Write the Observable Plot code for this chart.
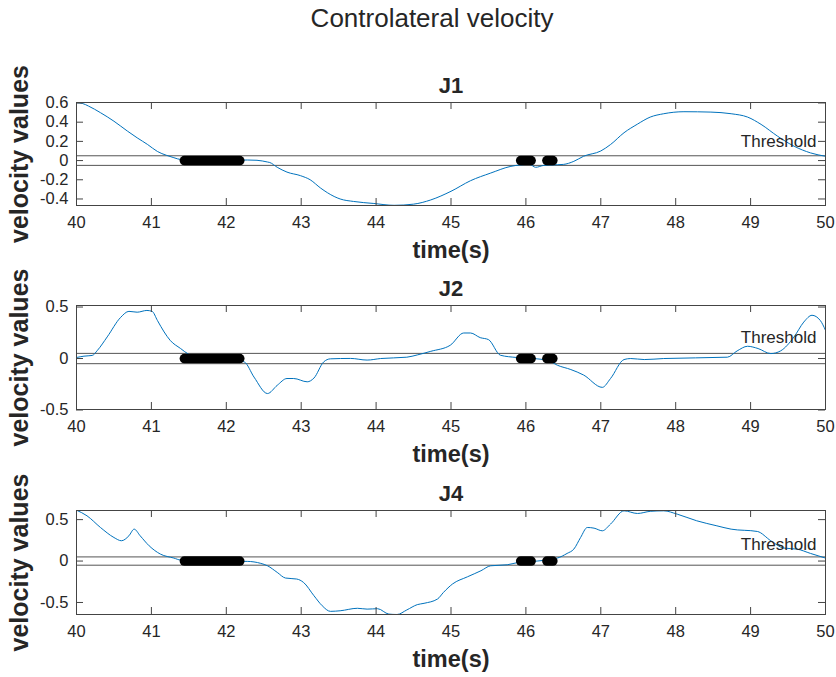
<!DOCTYPE html>
<html><head><meta charset="utf-8">
<script src="https://cdn.jsdelivr.net/npm/d3@7"></script>
<script src="https://cdn.jsdelivr.net/npm/@observablehq/plot@0.6"></script>
<style>
body{margin:0;background:#fff;}
#chart{position:relative;width:836px;height:677px;font-family:"Liberation Sans",Arial,sans-serif;color:#262626;background:#fff;overflow:hidden;}
#title{position:absolute;left:432px;top:5px;transform:translateX(-50%);font-size:26px;line-height:1;white-space:nowrap;}
.panel{position:absolute;left:0;}
.panel svg{overflow:visible;}
</style></head><body>
<div id="chart"><div id="title">Controlateral velocity</div></div>
<script>
// ---- data ----
const xTicks = [40, 41, 42, 43, 44, 45, 46, 47, 48, 49, 50];
const thresholds = [0.05, -0.05];
const thresholdLabel = "Threshold";
const detStart = [41.44, 45.93, 46.28];
const detEnd   = [42.18, 46.07, 46.36];

const j1Time = [40.00,40.08,40.16,40.32,40.50,40.68,40.81,40.95,41.08,41.20,41.30,41.40,41.60,41.80,42.00,42.20,42.28,42.41,42.55,42.58,42.68,42.81,42.99,43.12,43.26,43.44,43.52,43.70,43.97,44.24,44.50,44.73,45.00,45.26,45.53,45.80,45.93,46.05,46.13,46.24,46.35,46.50,46.64,46.77,47.00,47.13,47.31,47.49,47.66,47.84,48.11,48.47,48.74,48.96,49.14,49.36,49.58,49.80,50.00];
const j1Vel  = [0.603,0.595,0.568,0.499,0.41,0.307,0.237,0.167,0.095,0.055,0.03,0.01,0.005,0.0,0.0,0.005,0.006,0.003,-0.015,-0.02,-0.07,-0.12,-0.157,-0.20,-0.287,-0.374,-0.40,-0.426,-0.447,-0.466,-0.454,-0.41,-0.32,-0.21,-0.13,-0.06,-0.045,-0.04,-0.07,-0.05,-0.045,-0.04,-0.008,0.045,0.10,0.167,0.29,0.38,0.453,0.488,0.509,0.505,0.488,0.453,0.377,0.254,0.15,0.08,0.045];
const j1Ticks = [-0.4, -0.2, 0, 0.2, 0.4, 0.6];
const j1Domain = [-0.468, 0.605];

const j2Time = [40.00,40.10,40.21,40.28,40.41,40.59,40.70,40.81,40.94,41.01,41.08,41.17,41.25,41.39,41.50,41.70,42.00,42.24,42.37,42.55,42.68,42.81,42.90,43.08,43.17,43.30,43.39,43.66,43.88,44.06,44.41,44.55,44.73,44.99,45.17,45.26,45.39,45.50,45.66,45.88,46.10,46.30,46.42,46.60,46.77,47.02,47.13,47.31,47.40,47.58,47.84,48.69,48.82,48.96,49.10,49.27,49.40,49.58,49.71,49.82,49.93,50.00];
const j2Vel  = [0.01,0.023,0.03,0.08,0.21,0.40,0.458,0.45,0.467,0.458,0.37,0.258,0.177,0.097,0.04,0.0,0.0,-0.033,-0.18,-0.34,-0.26,-0.194,-0.194,-0.226,-0.19,-0.033,-0.003,0.001,-0.015,0.0,0.013,0.035,0.07,0.129,0.248,0.248,0.203,0.184,0.032,0.01,0.0,-0.02,-0.065,-0.107,-0.16,-0.28,-0.194,-0.01,0.0,-0.01,0.0,0.013,0.074,0.119,0.097,0.048,0.074,0.21,0.354,0.42,0.37,0.274];
const j2Ticks = [-0.5, 0, 0.5];
const j2Domain = [-0.495, 0.515];

const j4Time = [40.00,40.14,40.32,40.50,40.60,40.70,40.77,40.85,40.97,41.12,41.30,41.39,41.80,42.28,42.46,42.55,42.68,42.79,42.94,43.03,43.17,43.28,43.39,43.52,43.75,43.88,44.02,44.17,44.28,44.41,44.55,44.64,44.82,44.90,45.02,45.22,45.40,45.53,45.75,45.88,46.15,46.42,46.55,46.64,46.73,46.82,46.91,47.02,47.13,47.31,47.49,47.66,47.84,48.02,48.28,48.55,48.74,49.09,49.27,49.44,49.62,49.80,50.00];
const j4Vel  = [0.614,0.546,0.405,0.284,0.245,0.305,0.385,0.305,0.184,0.084,0.036,0.012,0.0,-0.004,-0.028,-0.057,-0.137,-0.205,-0.217,-0.257,-0.418,-0.539,-0.607,-0.60,-0.57,-0.58,-0.575,-0.64,-0.645,-0.59,-0.526,-0.51,-0.458,-0.378,-0.277,-0.19,-0.117,-0.057,-0.045,-0.02,0.0,0.036,0.092,0.144,0.284,0.405,0.397,0.365,0.446,0.606,0.574,0.60,0.606,0.566,0.486,0.425,0.385,0.357,0.245,0.157,0.144,0.092,0.036];
const j4Ticks = [-0.5, 0, 0.5];
const j4Domain = [-0.645, 0.61];

const panels = [
  {name: "J1", time: j1Time, vel: j1Vel, ticks: j1Ticks, domain: j1Domain, boxTop: 102, boxH: 103},
  {name: "J2", time: j2Time, vel: j2Vel, ticks: j2Ticks, domain: j2Domain, boxTop: 305, boxH: 104},
  {name: "J4", time: j4Time, vel: j4Vel, ticks: j4Ticks, domain: j4Domain, boxTop: 510, boxH: 104}
];

const ink = "#262626";
const axisStroke = "#444";
const fmt = d => String(d);
const chart = document.getElementById("chart");
const W = 836, ML = 76, MR = 11, TL = 7;

for (const p of panels) {
  const mt = 40, mb = 62;
  const boxW = W - ML - MR;
  const series = p.time.map((t, i) => ({t, v: p.vel[i]}));
  const det = detStart.flatMap((s, i) => [{t: s, v: 0, k: i}, {t: detEnd[i], v: 0, k: i}]);
  const svg = Plot.plot({
    width: W,
    height: mt + p.boxH + mb,
    marginTop: mt, marginBottom: mb, marginLeft: ML, marginRight: MR,
    style: {fontFamily: "'Liberation Sans', Arial, sans-serif", fontSize: "16px", color: ink, background: "transparent", overflow: "visible"},
    x: {domain: [40, 50]},
    y: {domain: p.domain},
    marks: [
      Plot.ruleY(thresholds, {stroke: "#555", strokeWidth: 1}),
      Plot.line(series, {x: "t", y: "v", stroke: "#0072BD", strokeWidth: 1, curve: "monotone-x", clip: true}),
      Plot.line(det, {x: "t", y: "v", z: "k", stroke: "#000", strokeWidth: 9.5, strokeLinecap: "round"}),
      Plot.text([thresholdLabel], {x: () => 48.87, y: () => 0.2, text: d => d, textAnchor: "start", lineAnchor: "middle", fontSize: 17, fill: ink}),
      Plot.frame({stroke: axisStroke, strokeWidth: 1}),
      // inward tick marks on all four sides
      Plot.ruleX(xTicks, {x: d => d, insetTop: p.boxH - TL, stroke: axisStroke}),
      Plot.ruleX(xTicks, {x: d => d, insetBottom: p.boxH - TL, stroke: axisStroke}),
      Plot.ruleY(p.ticks, {y: d => d, insetRight: boxW - TL, stroke: axisStroke}),
      Plot.ruleY(p.ticks, {y: d => d, insetLeft: boxW - TL, stroke: axisStroke}),
      Plot.axisX(xTicks, {anchor: "bottom", tickSize: 0, tickPadding: 11, tickFormat: fmt, fill: ink, label: null, fontSize: 16.5}),
      Plot.axisY(p.ticks, {anchor: "left", tickSize: 0, tickPadding: 8, tickFormat: fmt, fill: ink, label: null, fontSize: 16.5}),
      Plot.text([p.name], {frameAnchor: "top", dy: -10, text: d => d, lineAnchor: "bottom", fontWeight: "bold", fontSize: 22, fill: ink}),
      Plot.text(["time(s)"], {frameAnchor: "bottom", dy: 52, text: d => d, lineAnchor: "bottom", fontWeight: "bold", fontSize: 23.5, fill: ink}),
      Plot.text(["velocity values"], {frameAnchor: "left", dx: -49, rotate: -90, text: d => d, lineAnchor: "bottom", textAnchor: "middle", fontWeight: "bold", fontSize: 25, fill: ink})
    ]
  });
  const wrap = document.createElement("div");
  wrap.className = "panel";
  wrap.style.top = (p.boxTop - mt) + "px";
  wrap.appendChild(svg);
  chart.appendChild(wrap);
}
</script>
</body></html>
